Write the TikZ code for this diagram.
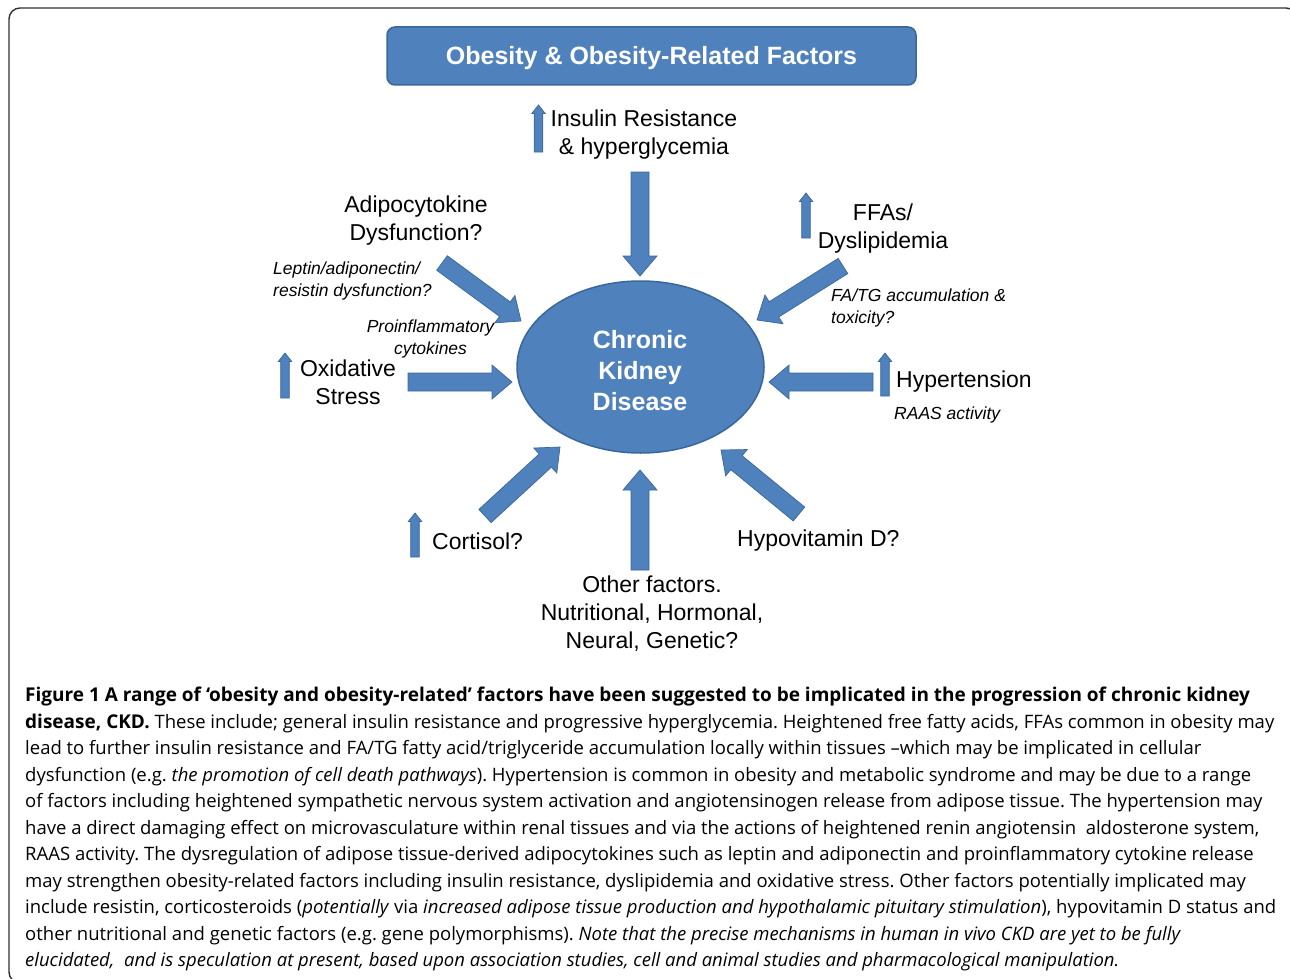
\documentclass[tikz,border=0pt]{standalone}
\usepackage{fontspec}
\setmainfont{Liberation Sans}
\newfontfamily\capfont{Open Sans}
\usetikzlibrary{calc,shapes.geometric}
\definecolor{obblue}{HTML}{4F81BD}
\definecolor{obedge}{HTML}{3A6799}
\definecolor{framec}{HTML}{303030}
\tikzset{
  arrowstyle/.style={fill=obblue, draw=obedge, line width=0.7pt, line join=miter},
  lbl/.style={font=\fontsize{23}{28}\selectfont, align=center, inner sep=0pt},
  ilbl/.style={font=\fontsize{17.5}{22}\selectfont\itshape, align=left, inner sep=0pt},
  bigw/.style={font=\fontsize{25}{31}\selectfont\bfseries, text=white, align=center},
}
\newcommand\blockarrow[5]{%
  \path ($(#2)!#5!(#1)$) coordinate (hb);
  \filldraw[arrowstyle] ($(#1)!#3!90:(#2)$) -- ($(hb)!#3!90:(#2)$) -- ($(hb)!#4!90:(#2)$) -- (#2) -- ($(hb)!#4!-90:(#2)$) -- ($(hb)!#3!-90:(#2)$) -- ($(#1)!#3!-90:(#2)$) -- cycle;
}
\newcommand\bigarrow[2]{\blockarrow{#1}{#2}{9pt}{17pt}{20pt}}
\newcommand\uparr[2]{\blockarrow{#1}{#2}{4.3pt}{6.7pt}{8.5pt}}
\newcommand\capbf[1]{{\fontsize{19}{26.5}\selectfont\bfseries #1}}
\begin{document}
\begin{tikzpicture}[x=1pt,y=-1pt]
\useasboundingbox (0,0) rectangle (1290,979);
\begin{scope}
\clip (0,0) rectangle (1290,979);
\draw[framec, line width=1.4pt, rounded corners=11pt] (9,8) rectangle (1297,983);
\end{scope}

% title
\node[draw=obedge, fill=obblue, rounded corners=8pt, minimum width=529pt, minimum height=58pt, line width=1.5pt] (title) at (651.5,56) {};
\node[bigw, inner sep=0pt] (titletext) at (651.5,58) {Obesity \& Obesity-Related Factors};

% centre
\node[ellipse, fill=obblue, draw=obedge, line width=1.5pt, minimum width=247pt, minimum height=172pt, inner sep=0pt] (ckd) at (640.5,367) {};
\node[bigw, inner sep=0pt] (ckdtext) at (640,370.5) {Chronic\\Kidney\\Disease};

% labels
\node[lbl] (ins) at (644,135) {Insulin Resistance\\\& hyperglycemia};
\node[lbl] (adi) at (416,221) {Adipocytokine\\Dysfunction?};
\node[ilbl, anchor=west] (lep) at (273,281) {Leptin/adiponectin/\\resistin dysfunction?};
\node[ilbl, align=center] (pro) at (430.5,339) {Proinflammatory\\cytokines};
\node[lbl] (ffa) at (883,229) {FFAs/\\Dyslipidemia};
\node[ilbl, anchor=west] (fatg) at (831,308) {FA/TG accumulation \&\\toxicity?};
\node[lbl] (oxi) at (348,382) {Oxidative\\Stress};
\node[lbl, anchor=west] (hyp) at (896,382) {Hypertension};
\node[ilbl, anchor=west] (raas) at (894,415) {RAAS activity};
\node[lbl, anchor=west] (cor) at (432,541) {Cortisol?};
\node[lbl, anchor=west] (vitd) at (737,541) {Hypovitamin D?};
\node[lbl] (oth) at (652,614) {Other factors.\\Nutritional, Hormonal,\\Neural, Genetic?};

% arrow end points
\coordinate (topT) at (640,172);  \coordinate (topH) at (640,276);
\coordinate (adT) at (442,263);   \coordinate (adH) at (521,321);
\coordinate (ffT) at (843,266);   \coordinate (ffH) at (757,320);
\coordinate (oxT) at (408,382);   \coordinate (oxH) at (512,382);
\coordinate (hyT) at (873,382);   \coordinate (hyH) at (769,382);
\coordinate (coT) at (485,516);   \coordinate (coH) at (560,447);
\coordinate (vdT) at (799,514);   \coordinate (vdH) at (721,450);
\coordinate (btT) at (640,570);   \coordinate (btH) at (640,470);

\bigarrow{topT}{topH}
\bigarrow{adT}{adH}
\bigarrow{ffT}{ffH}
\bigarrow{oxT}{oxH}
\bigarrow{hyT}{hyH}
\bigarrow{coT}{coH}
\bigarrow{vdT}{vdH}
\bigarrow{btT}{btH}

% small up arrows
\coordinate (u1T) at (538.5,152); \coordinate (u1H) at (538.5,105);
\coordinate (u2T) at (806,238);   \coordinate (u2H) at (806,193);
\coordinate (u3T) at (285,398);   \coordinate (u3H) at (285,353);
\coordinate (u4T) at (885,396);   \coordinate (u4H) at (885,353);
\coordinate (u5T) at (415,557);   \coordinate (u5H) at (415,513);
\uparr{u1T}{u1H}
\uparr{u2T}{u2H}
\uparr{u3T}{u3H}
\uparr{u4T}{u4H}
\uparr{u5T}{u5H}

% caption
\node[anchor=north west, align=left, inner sep=0pt, font=\capfont\fontsize{18.5}{26.5}\selectfont\frenchspacing] (cap) at (25,687) {%
\capbf{Figure 1 A range of ‘obesity and obesity-related’ factors have been suggested to be implicated in the progression of chronic kidney}\\
\capbf{disease, CKD.} These include; general insulin resistance and progressive hyperglycemia. Heightened free fatty acids, FFAs common in obesity may\\
lead to further insulin resistance and FA/TG fatty acid/triglyceride accumulation locally within tissues –which may be implicated in cellular\\
dysfunction (e.g. \textit{the promotion of cell death pathways}). Hypertension is common in obesity and metabolic syndrome and may be due to a range\\
of factors including heightened sympathetic nervous system activation and angiotensinogen release from adipose tissue. The hypertension may\\
have a direct damaging effect on microvasculature within renal tissues and via the actions of heightened renin angiotensin\ \ aldosterone system,\\
RAAS activity. The dysregulation of adipose tissue-derived adipocytokines such as leptin and adiponectin and proinflammatory cytokine release\\
may strengthen obesity-related factors including insulin resistance, dyslipidemia and oxidative stress. Other factors potentially implicated may\\
include resistin, corticosteroids (\textit{potentially} via \textit{increased adipose tissue production and hypothalamic pituitary stimulation}), hypovitamin D status and\\
other nutritional and genetic factors (e.g. gene polymorphisms). \textit{Note that the precise mechanisms in human in vivo CKD are yet to be fully}\\
\textit{elucidated,\ \ and is speculation at present, based upon association studies, cell and animal studies and pharmacological manipulation.}};
\end{tikzpicture}
\end{document}
